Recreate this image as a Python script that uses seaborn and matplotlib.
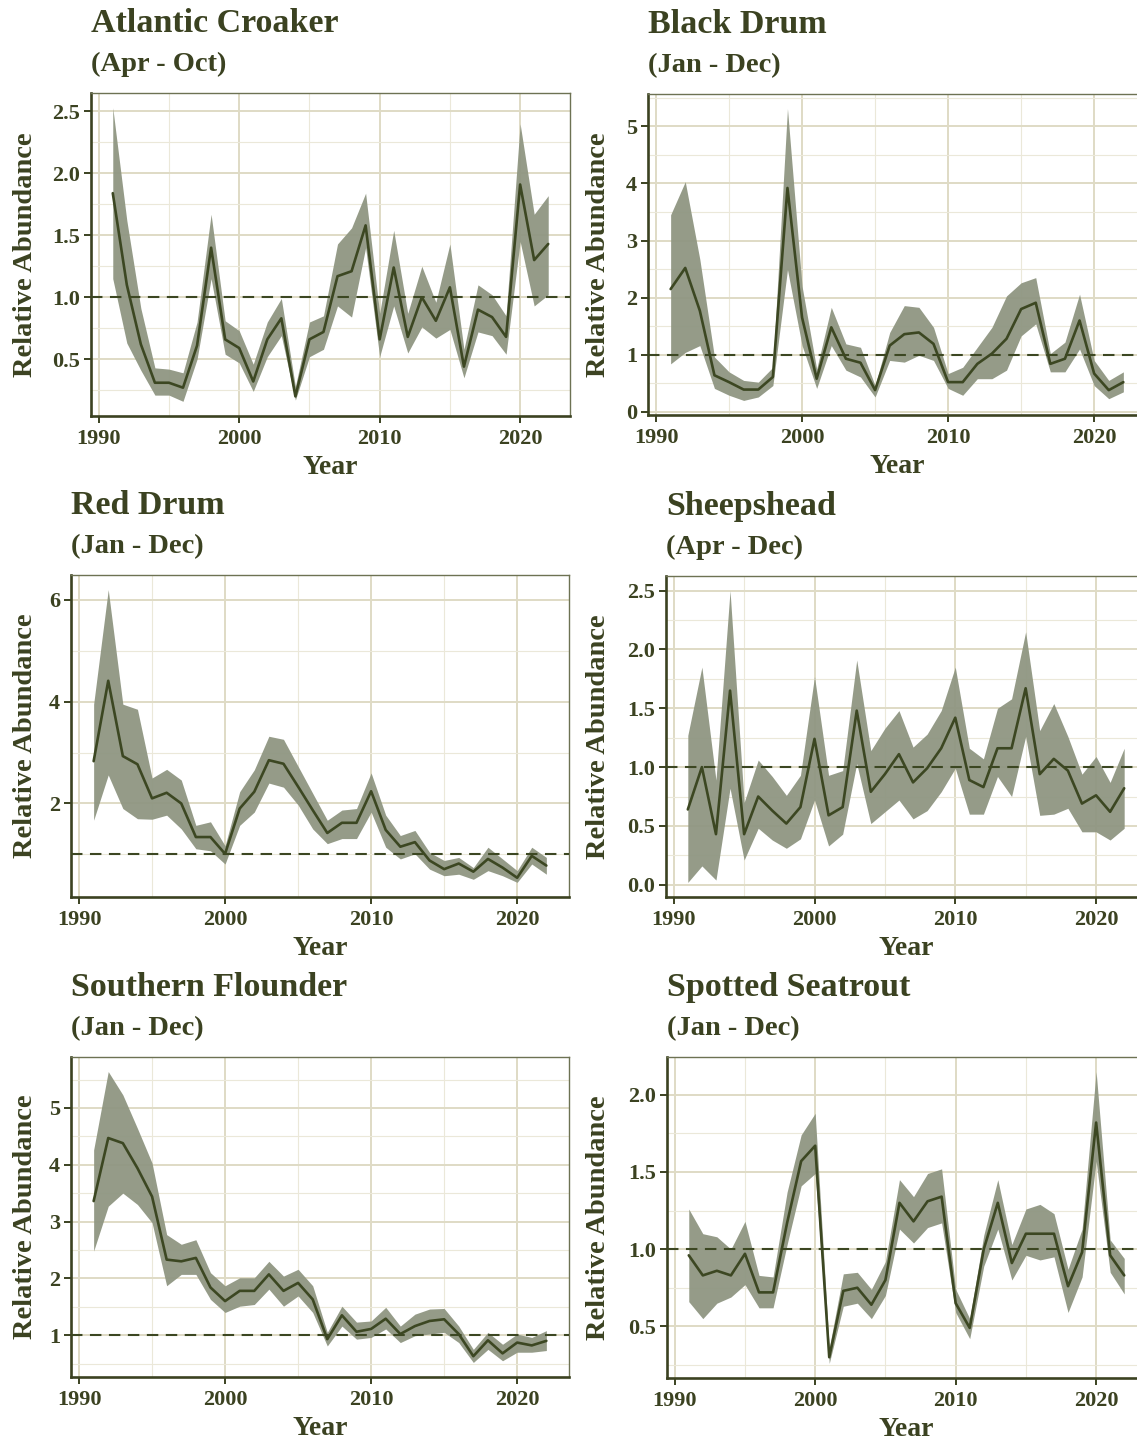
import numpy as np
import pandas as pd
import matplotlib
matplotlib.use("Agg")
import matplotlib.pyplot as plt
import matplotlib.transforms as mtransforms
from matplotlib.ticker import MultipleLocator, FormatStrFormatter
import seaborn as sns

# ---------------- data ----------------
years = list(range(1991, 2023))

ac_mid = [1.84, 1.10, 0.62, 0.31, 0.31, 0.27, 0.61, 1.40, 0.66, 0.59, 0.32, 0.66, 0.83, 0.20, 0.66, 0.72,
          1.17, 1.21, 1.58, 0.66, 1.24, 0.68, 1.00, 0.81, 1.08, 0.44, 0.90, 0.84, 0.68, 1.91, 1.30, 1.43]
ac_hi = [2.53, 1.62, 0.91, 0.43, 0.42, 0.39, 0.80, 1.67, 0.81, 0.73, 0.46, 0.80, 0.99, 0.28, 0.80, 0.85,
         1.43, 1.56, 1.84, 0.87, 1.54, 0.87, 1.25, 0.96, 1.43, 0.58, 1.10, 1.02, 0.85, 2.40, 1.67, 1.82]
ac_lo = [1.15, 0.63, 0.41, 0.21, 0.21, 0.16, 0.50, 1.15, 0.54, 0.47, 0.24, 0.52, 0.69, 0.17, 0.52, 0.58,
         0.93, 0.84, 1.40, 0.52, 0.93, 0.55, 0.76, 0.67, 0.74, 0.35, 0.72, 0.69, 0.54, 1.45, 0.93, 1.02]

bd_mid = [2.15, 2.52, 1.77, 0.64, 0.52, 0.39, 0.39, 0.61, 3.92, 1.65, 0.58, 1.48, 0.93, 0.86, 0.38, 1.16,
          1.36, 1.39, 1.19, 0.52, 0.52, 0.84, 1.02, 1.28, 1.80, 1.91, 0.84, 0.93, 1.60, 0.67, 0.38, 0.52]
bd_hi = [3.45, 4.03, 2.67, 0.96, 0.70, 0.55, 0.52, 0.78, 5.31, 2.20, 0.75, 1.83, 1.19, 1.13, 0.46, 1.39,
         1.86, 1.83, 1.48, 0.67, 0.78, 1.13, 1.48, 2.03, 2.26, 2.35, 1.02, 1.22, 2.06, 0.90, 0.55, 0.70]
bd_lo = [0.84, 1.04, 1.16, 0.41, 0.29, 0.20, 0.26, 0.46, 2.49, 1.16, 0.41, 1.16, 0.73, 0.61, 0.26, 0.90,
         0.87, 0.99, 0.90, 0.41, 0.29, 0.58, 0.58, 0.73, 1.33, 1.54, 0.70, 0.70, 1.10, 0.46, 0.23, 0.35]

rd_mid = [2.83, 4.41, 2.93, 2.77, 2.10, 2.21, 2.00, 1.34, 1.34, 1.01, 1.90, 2.23, 2.85, 2.78, 2.33, 1.87,
          1.42, 1.62, 1.62, 2.24, 1.48, 1.15, 1.24, 0.88, 0.71, 0.82, 0.66, 0.91, 0.74, 0.54, 0.97, 0.78]
rd_hi = [3.95, 6.20, 3.95, 3.85, 2.50, 2.67, 2.46, 1.57, 1.64, 1.17, 2.23, 2.66, 3.32, 3.26, 2.73, 2.20,
         1.67, 1.87, 1.90, 2.60, 1.77, 1.37, 1.47, 1.04, 0.88, 0.94, 0.74, 1.14, 0.91, 0.68, 1.14, 0.94]
rd_lo = [1.67, 2.56, 1.90, 1.70, 1.69, 1.77, 1.50, 1.11, 1.07, 0.81, 1.57, 1.83, 2.40, 2.32, 1.97, 1.50,
         1.21, 1.31, 1.31, 1.83, 1.14, 0.91, 1.01, 0.71, 0.58, 0.61, 0.51, 0.68, 0.58, 0.45, 0.81, 0.61]

sh_mid = [0.64, 1.00, 0.43, 1.65, 0.43, 0.75, 0.63, 0.52, 0.66, 1.24, 0.59, 0.66, 1.48, 0.79, 0.94, 1.11,
          0.87, 0.99, 1.16, 1.42, 0.89, 0.83, 1.16, 1.16, 1.67, 0.94, 1.07, 0.97, 0.69, 0.76, 0.62, 0.82]
sh_hi = [1.27, 1.85, 0.89, 2.50, 0.70, 1.06, 0.92, 0.76, 0.93, 1.77, 0.93, 0.97, 1.91, 1.14, 1.33, 1.48,
         1.17, 1.28, 1.48, 1.85, 1.16, 1.07, 1.50, 1.58, 2.15, 1.31, 1.54, 1.26, 0.94, 1.09, 0.87, 1.16]
sh_lo = [0.02, 0.16, 0.04, 0.82, 0.21, 0.48, 0.38, 0.31, 0.39, 0.72, 0.33, 0.43, 1.03, 0.52, 0.62, 0.72,
         0.56, 0.63, 0.79, 0.99, 0.60, 0.60, 0.92, 0.75, 1.26, 0.59, 0.60, 0.65, 0.45, 0.45, 0.38, 0.48]

sf_mid = [3.36, 4.47, 4.38, 3.94, 3.44, 2.33, 2.30, 2.36, 1.84, 1.60, 1.78, 1.78, 2.07, 1.78, 1.92, 1.63,
          0.93, 1.35, 1.06, 1.11, 1.29, 1.02, 1.16, 1.25, 1.28, 1.02, 0.63, 0.91, 0.68, 0.87, 0.82, 0.90]
sf_hi = [4.26, 5.64, 5.23, 4.64, 4.03, 2.77, 2.60, 2.68, 2.10, 1.87, 2.01, 2.01, 2.30, 2.04, 2.16, 1.87,
         1.05, 1.51, 1.23, 1.25, 1.49, 1.16, 1.37, 1.46, 1.47, 1.16, 0.75, 1.05, 0.84, 1.02, 0.96, 1.08]
sf_lo = [2.48, 3.27, 3.50, 3.30, 2.98, 1.87, 2.07, 2.07, 1.63, 1.40, 1.51, 1.54, 1.81, 1.51, 1.69, 1.40,
         0.81, 1.16, 0.93, 0.96, 1.11, 0.87, 0.99, 1.02, 1.05, 0.87, 0.52, 0.75, 0.55, 0.70, 0.70, 0.73]

ss_mid = [0.96, 0.83, 0.86, 0.83, 0.97, 0.72, 0.72, 1.17, 1.57, 1.67, 0.30, 0.73, 0.75, 0.64, 0.80, 1.30,
          1.18, 1.31, 1.34, 0.65, 0.49, 1.00, 1.30, 0.91, 1.10, 1.10, 1.10, 0.76, 0.98, 1.82, 0.96, 0.83]
ss_hi = [1.26, 1.10, 1.08, 1.00, 1.18, 0.83, 0.82, 1.37, 1.74, 1.88, 0.36, 0.84, 0.85, 0.74, 0.92, 1.45,
         1.34, 1.49, 1.52, 0.74, 0.55, 1.09, 1.45, 1.03, 1.26, 1.29, 1.23, 0.87, 1.13, 2.15, 1.06, 0.94]
ss_lo = [0.66, 0.55, 0.65, 0.69, 0.77, 0.62, 0.62, 1.03, 1.41, 1.49, 0.26, 0.63, 0.65, 0.55, 0.70, 1.13,
         1.04, 1.14, 1.17, 0.59, 0.42, 0.89, 1.13, 0.80, 0.96, 0.93, 0.95, 0.59, 0.82, 1.57, 0.85, 0.71]

titles = ["Atlantic Croaker", "Black Drum", "Red Drum", "Sheepshead", "Southern Flounder", "Spotted Seatrout"]
seasons = ["(Apr - Oct)", "(Jan - Dec)", "(Jan - Dec)", "(Apr - Dec)", "(Jan - Dec)", "(Jan - Dec)"]
x_ticks = [1990, 2000, 2010, 2020]
y_steps = [0.5, 1, 2, 0.5, 1, 0.5]

series = [(ac_mid, ac_lo, ac_hi), (bd_mid, bd_lo, bd_hi), (rd_mid, rd_lo, rd_hi),
          (sh_mid, sh_lo, sh_hi), (sf_mid, sf_lo, sf_hi), (ss_mid, ss_lo, ss_hi)]

# ---------------- style ----------------
sns.set_theme(style="white")
plt.rcParams['font.family'] = ['Liberation Serif', 'DejaVu Serif']

TXT = "#3b4221"
LINE = "#3c4722"
FILL = "#8f9682"
GRID_MAJ = "#dfdbc5"
GRID_MIN = "#ebe8d9"

W, H = 1137, 1441
fig = plt.figure(figsize=(W / 100, H / 100), dpi=100)
fig.patch.set_facecolor("white")

# panel boxes in pixels: left, top, right, bottom
boxes = [(91, 93, 570, 416), (648, 94, 1146, 415),
         (71, 575, 569, 897), (666, 576, 1146, 897),
         (71, 1057, 569, 1377), (667, 1057, 1146, 1378)]
ylabel_x = [38, 611, 38, 611, 38, 611]

for i, (mid, lo, hi) in enumerate(series):
    l, t, r, b = boxes[i]
    ax = fig.add_axes([l / W, 1 - b / H, (r - l) / W, (b - t) / H])
    ax.set_facecolor("white")
    ax.set_axisbelow(True)

    ax.fill_between(years, lo, hi, color=FILL, alpha=0.95, linewidth=0, zorder=2)
    ax.axhline(1.0, color=LINE, lw=1.5, ls=(0, (5.5, 3.6)), zorder=3)
    sns.lineplot(x=years, y=mid, ax=ax, color=LINE, lw=1.9, zorder=4)

    ax.margins(x=0.05, y=0.05)
    ax.set_xticks(x_ticks)
    ax.xaxis.set_minor_locator(MultipleLocator(5))
    ax.yaxis.set_major_locator(MultipleLocator(y_steps[i]))
    ax.yaxis.set_minor_locator(MultipleLocator(y_steps[i] / 2))
    ax.autoscale_view()

    ax.grid(True, which="major", color=GRID_MAJ, lw=1.4)
    ax.grid(True, which="minor", color=GRID_MIN, lw=0.8)

    if y_steps[i] == 0.5:
        ax.yaxis.set_major_formatter(FormatStrFormatter("%.1f"))
    else:
        ax.yaxis.set_major_formatter(FormatStrFormatter("%d"))

    for side in ["left", "bottom"]:
        ax.spines[side].set_color(TXT)
        ax.spines[side].set_linewidth(1.9)
    for side in ["top", "right"]:
        ax.spines[side].set_color("#6d7253")
        ax.spines[side].set_linewidth(1.0)
        ax.spines[side].set_visible(True)

    ax.tick_params(axis="both", which="major", direction="out", length=5, width=1.4,
                   color=TXT, labelcolor=TXT, labelsize=16, pad=3, left=True, bottom=True)
    ax.tick_params(axis="x", which="major", pad=4.5)
    ax.tick_params(axis="both", which="minor", length=0)
    for lab in ax.get_xticklabels() + ax.get_yticklabels():
        lab.set_fontweight("bold")

    ax.set_xlabel("Year", fontsize=20, color=TXT, fontweight="bold", labelpad=4)
    ax.set_ylabel("Relative Abundance", fontsize=20.5, color=TXT, fontweight="bold")
    trans = mtransforms.blended_transform_factory(fig.transFigure, ax.transAxes)
    ax.yaxis.set_label_coords(ylabel_x[i] / W, 0.5, transform=trans)

    fig.text(l / W, 1 - (t - 61) / H, titles[i], fontsize=24.5, fontweight="bold", color=TXT,
             ha="left", va="baseline")
    fig.text(l / W, 1 - (t - 22) / H, seasons[i], fontsize=20.5, fontweight="bold", color=TXT,
             ha="left", va="baseline")

fig.savefig("out.png", dpi=100, facecolor="white")
